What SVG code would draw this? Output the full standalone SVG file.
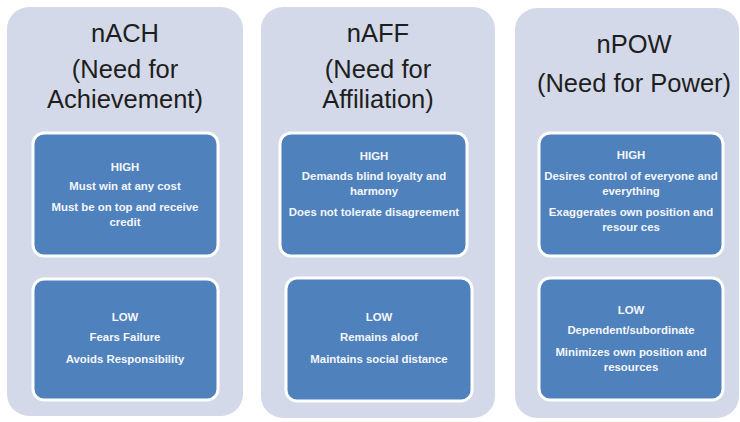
<svg xmlns="http://www.w3.org/2000/svg" width="740" height="422" viewBox="0 0 740 422">
<style>
.panel{fill:#D3D9E8;}
.box{fill:#4F81BD;stroke:#FFFFFF;stroke-width:3;}
.title{font-family:"Liberation Sans",Arial,sans-serif;font-size:25.5px;fill:#1E1E1E;text-anchor:middle;}
.t{font-family:"Liberation Sans",Arial,sans-serif;font-size:11.4px;font-weight:bold;fill:#F4F6FA;text-anchor:middle;}
</style>
<rect width="740" height="422" fill="#FFFFFF"/>
<g id="panel-nach">
<rect class="panel" x="7" y="7" width="236" height="409" rx="22"/>
<text class="title" x="125" y="42">nACH</text>
<text class="title" x="125" y="78">(Need for</text>
<text class="title" x="125" y="107.5">Achievement)</text>
</g>
<g id="nach-high">
<rect class="box" x="33" y="133" width="185" height="123" rx="11"/>
<text class="t" x="125" y="171">HIGH</text>
<text class="t" x="125" y="190">Must win at any cost</text>
<text class="t" x="125" y="211">Must be on top and receive</text>
<text class="t" x="125" y="226">credit</text>
</g>
<g id="nach-low">
<rect class="box" x="33" y="279" width="185" height="121" rx="11"/>
<text class="t" x="125" y="321">LOW</text>
<text class="t" x="125" y="341">Fears Failure</text>
<text class="t" x="125" y="363">Avoids Responsibility</text>
</g>
<g id="panel-naff">
<rect class="panel" x="261" y="7" width="234" height="411" rx="22"/>
<text class="title" x="378" y="42">nAFF</text>
<text class="title" x="378" y="78">(Need for</text>
<text class="title" x="378" y="107.5">Affiliation)</text>
</g>
<g id="naff-high">
<rect class="box" x="280" y="133" width="187" height="123" rx="11"/>
<text class="t" x="374" y="160">HIGH</text>
<text class="t" x="374" y="180">Demands blind loyalty and</text>
<text class="t" x="374" y="195">harmony</text>
<text class="t" x="374" y="216">Does not tolerate disagreement</text>
</g>
<g id="naff-low">
<rect class="box" x="286" y="278" width="186" height="123" rx="11"/>
<text class="t" x="379" y="321">LOW</text>
<text class="t" x="379" y="341">Remains aloof</text>
<text class="t" x="379" y="363">Maintains social distance</text>
</g>
<g id="panel-npow">
<rect class="panel" x="515" y="8" width="224" height="410" rx="22"/>
<text class="title" x="634" y="53">nPOW</text>
<text class="title" x="634" y="92">(Need for Power)</text>
</g>
<g id="npow-high">
<rect class="box" x="539" y="133" width="184" height="123" rx="11"/>
<text class="t" x="631" y="159">HIGH</text>
<text class="t" x="631" y="180">Desires control of everyone and</text>
<text class="t" x="631" y="195">everything</text>
<text class="t" x="631" y="216">Exaggerates own position and</text>
<text class="t" x="631" y="231">resour ces</text>
</g>
<g id="npow-low">
<rect class="box" x="539" y="278" width="184" height="122" rx="11"/>
<text class="t" x="631" y="314">LOW</text>
<text class="t" x="631" y="334">Dependent/subordinate</text>
<text class="t" x="631" y="356">Minimizes own position and</text>
<text class="t" x="631" y="371">resources</text>
</g>
<g id="connectors"></g>
</svg>
